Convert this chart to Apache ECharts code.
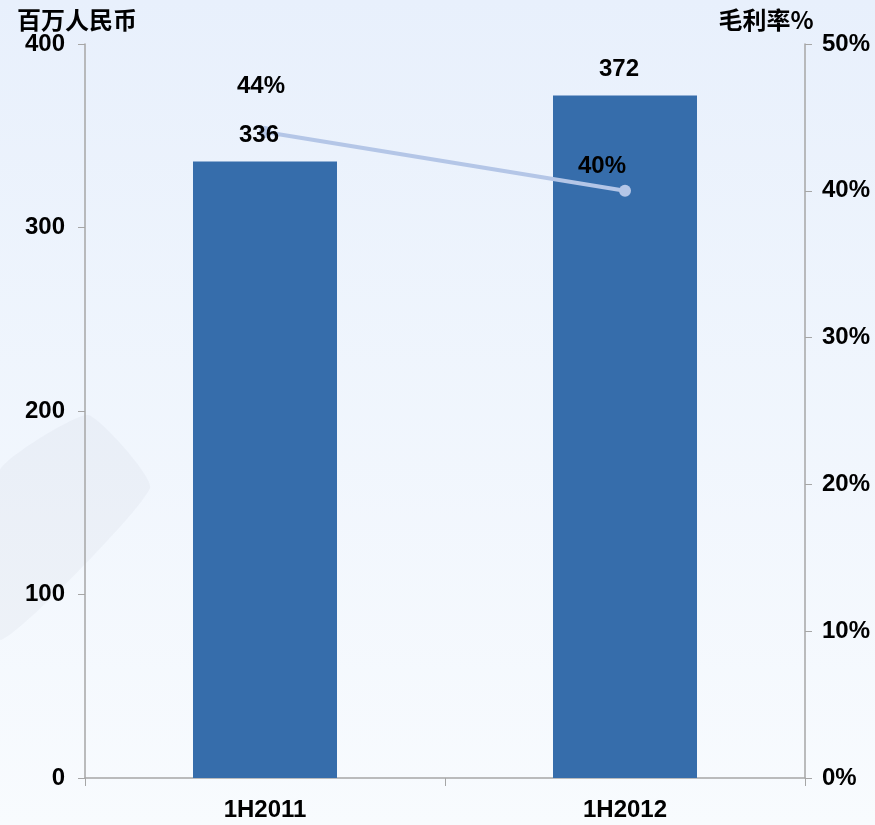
<!DOCTYPE html>
<html>
<head>
<meta charset="utf-8">
<script src="https://cdn.jsdelivr.net/npm/echarts@6/dist/echarts.min.js"></script>
<style>
html, body { margin: 0; padding: 0; }
#main { width: 875px; height: 825px; }
</style>
</head>
<body>
<div id="main"></div>
<script>
var categories = ['1H2011', '1H2012'];
var revenue = [336, 372];
var margin = [44, 40];
var leftName = '百万人民币';
var rightName = '毛利率%';

function initChart(){
	var myChart = echarts.init(document.getElementById('main'));
	myChart.setOption(createOption());
}

function createOption(){
	var numFont = {
		fontFamily: 'Liberation Sans, Arial, sans-serif',
		fontWeight: 'bold',
		fontSize: 24,
		color: '#000'
	};
	var axisGrey = '#a6a6a6';
	var option = {
		animation: false,
		graphic: [
			{
				type: 'rect', z: -100, silent: true,
				shape: { x: 0, y: 0, width: 875, height: 825 },
				style: {
					fill: new echarts.graphic.LinearGradient(0, 0, 0, 1, [
						{ offset: 0, color: '#e8f0fc' },
						{ offset: 1, color: '#f8fbfe' }
					])
				}
			},
			{
				// faint watermark on the left
				type: 'polygon', z: -99, silent: true,
				shape: { points: [[0, 470], [88, 415], [150, 488], [0, 640]], smooth: 0.15 },
				style: { fill: 'rgba(205,210,220,0.18)' }
			}
		],
		grid: {
			left: 85,
			right: 70,
			top: 44,
			bottom: 47
		},
		xAxis: {
			type: 'category',
			data: categories,
			axisLine: { lineStyle: { color: axisGrey, width: 1.5 } },
			axisTick: { show: true, length: 8, lineStyle: { color: axisGrey } },
			axisLabel: Object.assign({ margin: 20 }, numFont)
		},
		yAxis: [
			{
				type: 'value',
				min: 0,
				max: 400,
				interval: 100,
				name: leftName,
				nameLocation: 'end',
				nameGap: 12,
				nameTextStyle: {
					fontFamily: 'Noto Sans CJK SC',
					fontSize: 24,
					fontWeight: 'bold',
					color: '#000',
					align: 'center',
					padding: [0, 16, 0, 0]
				},
				splitLine: { show: false },
				axisLine: { show: true, lineStyle: { color: axisGrey, width: 1.5 } },
				axisTick: { show: true, length: 7, lineStyle: { color: axisGrey } },
				axisLabel: Object.assign({ margin: 20 }, numFont)
			},
			{
				type: 'value',
				min: 0,
				max: 50,
				interval: 10,
				position: 'right',
				name: rightName,
				nameLocation: 'end',
				nameGap: 12,
				nameTextStyle: {
					fontFamily: 'Noto Sans CJK SC',
					fontSize: 24,
					fontWeight: 'bold',
					color: '#000',
					align: 'center',
					padding: [0, 78, 0, 0]
				},
				splitLine: { show: false },
				axisLine: { show: true, lineStyle: { color: axisGrey, width: 1.5 } },
				axisTick: { show: true, length: 7, lineStyle: { color: axisGrey } },
				axisLabel: Object.assign({ margin: 17, formatter: '{value}%' }, numFont)
			}
		],
		series: [
			{
				name: '收入',
				type: 'bar',
				data: revenue,
				barWidth: '40%',
				itemStyle: { color: '#366dab' }
			},
			{
				name: '毛利率',
				type: 'line',
				yAxisIndex: 1,
				z: 3,
				data: margin.map(function (v, i) {
					return {
						value: v,
						label: i === 0 ? { distance: 28, offset: [-4, 0] } : { distance: 6, offset: [-23, 0] }
					};
				}),
				symbol: 'circle',
				symbolSize: 12,
				lineStyle: { color: '#b4c6e7', width: 4 },
				itemStyle: { color: '#b4c6e7' },
				label: Object.assign({ show: true, position: 'top', formatter: '{c}%' }, numFont)
			},
			{
				// bar value labels, kept above the line
				name: '收入标签',
				type: 'scatter',
				z: 10,
				data: revenue,
				symbolSize: 1,
				itemStyle: { color: 'rgba(0,0,0,0)', opacity: 1 },
				label: Object.assign({ show: true, position: 'top', distance: 14, offset: [-6, 0] }, numFont)
			}
		]
	};
	return option;
}

initChart();
</script>
</body>
</html>
